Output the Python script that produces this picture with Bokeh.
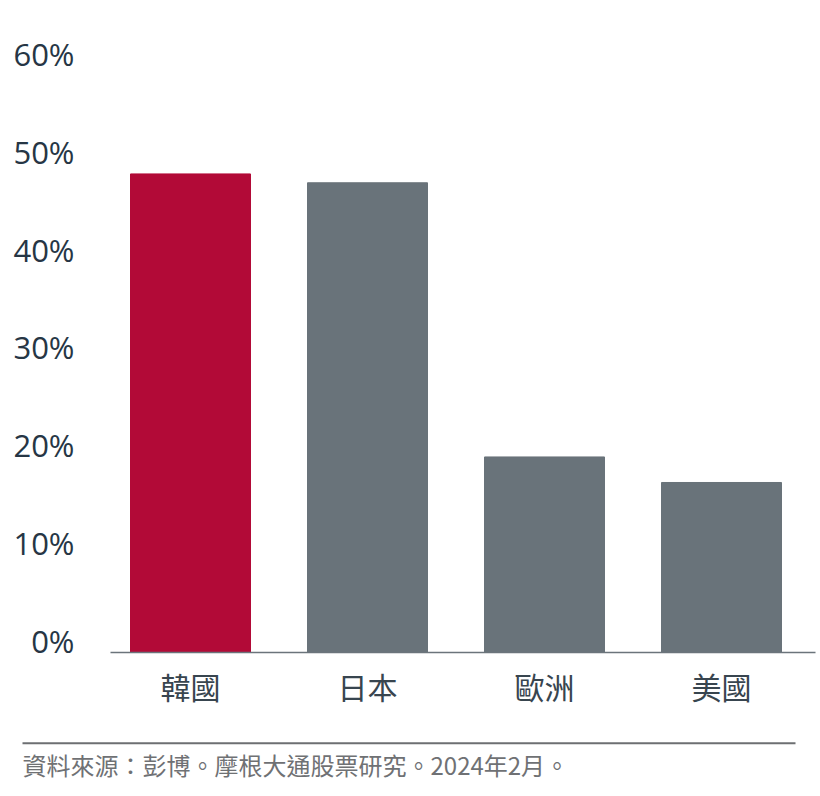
from bokeh.plotting import figure
from bokeh.models import Range1d, FixedTicker, PrintfTickFormatter, ColumnDataSource, LinearAxis
from bokeh.layouts import column
from bokeh.embed import file_html
from bokeh.resources import INLINE
from bokeh.core.properties import value

categories = ["韓國", "日本", "歐洲", "美國"]
values = [48.7, 47.8, 19.9, 17.3]
bar_colors = ["#b20a37", "#69737a", "#69737a", "#69737a"]
y_ticks = [0, 10, 20, 30, 40, 50, 60]
source_text = "資料來源：彭博。摩根大通股票研究。2024年2月。"

CJK = "Noto Sans CJK TC"

xs = list(range(len(categories)))
src = ColumnDataSource(dict(x=xs, top=values, color=bar_colors))

p = figure(width=820, height=720, output_backend="svg", toolbar_location=None,
           x_range=Range1d(-0.452, 3.531), y_range=Range1d(0, 63.5),
           min_border_left=110, min_border_right=5, min_border_top=28, min_border_bottom=68)
p.outline_line_color = None
p.xgrid.visible = False
p.ygrid.visible = False
p.yaxis.visible = False

p.vbar(x="x", top="top", bottom=0, width=0.678, color="color", source=src)

# label axis: same scale as bars, labels drawn slightly above their values
p.extra_y_ranges = {"labels": Range1d(-1.20, 62.60)}
ya = LinearAxis(y_range_name="labels")
ya.ticker = FixedTicker(ticks=y_ticks)
ya.formatter = PrintfTickFormatter(format="%d%%")
ya.axis_line_color = None
ya.major_tick_line_color = None
ya.minor_tick_line_color = None
ya.major_tick_out = 0
ya.major_tick_in = 0
ya.major_label_standoff = 36
ya.major_label_text_font = "Open Sans"
ya.major_label_text_font_size = "31px"
ya.major_label_text_color = "#263645"
p.add_layout(ya, "left")

# x axis
p.xaxis.ticker = FixedTicker(ticks=xs)
p.xaxis.major_label_overrides = {i: c for i, c in enumerate(categories)}
p.xaxis.axis_line_color = "#6b747b"
p.xaxis.axis_line_width = 1.5
p.xaxis.major_tick_line_color = None
p.xaxis.minor_tick_line_color = None
p.xaxis.major_tick_out = 0
p.xaxis.major_tick_in = 0
p.xaxis.major_label_standoff = 11
p.xaxis.major_label_text_font = CJK
p.xaxis.major_label_text_font_size = "30px"
p.xaxis.major_label_text_color = "#38454f"

# footer
f = figure(width=820, height=76, output_backend="svg", toolbar_location=None,
           x_range=Range1d(0, 820), y_range=Range1d(76, 0),
           min_border=0)
f.frame_align = False
f.outline_line_color = None
f.axis.visible = False
f.grid.visible = False
f.segment(x0=[22], y0=[22.7], x1=[795], y1=[22.7], line_color="#6d6f72", line_width=2)
f.text(x=[22], y=[43.5], text=[source_text], text_font=value(CJK),
       text_font_size="24px", text_color="#6f7174", text_baseline="middle", text_align="left")

layout = column(p, f, spacing=0)
open("out.html", "w").write(file_html(layout, INLINE))
